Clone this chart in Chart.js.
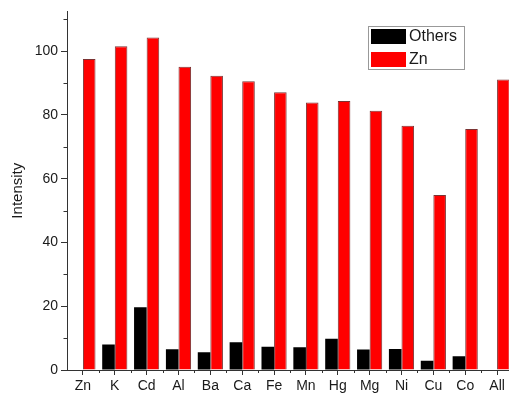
<!DOCTYPE html>
<html>
<head>
<meta charset="utf-8">
<script src="https://cdn.jsdelivr.net/npm/chart.js@4/dist/chart.umd.min.js"></script>
<style>
  html, body { margin: 0; padding: 0; background: #fff; overflow: hidden; width: 509px; height: 393px; }
  #wrap { width: 513px; height: 393px; position: relative; }
</style>
</head>
<body>
<div id="wrap"><canvas id="c"></canvas></div>
<script>
// Ions tested and measured intensities
const categories = ['Zn', 'K', 'Cd', 'Al', 'Ba', 'Ca', 'Fe', 'Mn', 'Hg', 'Mg', 'Ni', 'Cu', 'Co', 'All'];
const othersValues = [0, 8.0, 19.7, 6.5, 5.6, 8.7, 7.3, 7.1, 9.8, 6.4, 6.6, 2.9, 4.3, 0];
const znValues = [97.6, 101.6, 104.3, 95.1, 92.3, 90.6, 87.1, 83.9, 84.4, 81.3, 76.6, 54.9, 75.6, 91.1];
const yTicks = [0, 20, 40, 60, 80, 100];
const yMinorTicks = [10, 30, 50, 70, 90, 110];
const seriesLabels = ['Others', 'Zn'];

const FONT = '"Liberation Sans", Arial, sans-serif';
const AXIS = '#333';
const TEXT = '#1a1a1a';

// Minor ticks on both axes and the boxed legend inside the plot
const extras = {
  id: 'extras',
  afterDraw(chart) {
    const ctx = chart.ctx;
    const x = chart.scales.x, y = chart.scales.y;
    ctx.save();
    ctx.strokeStyle = AXIS;
    ctx.lineWidth = 1;
    ctx.beginPath();
    yMinorTicks.forEach(v => {
      const py = Math.round(y.getPixelForValue(v)) + 0.5;
      ctx.moveTo(x.left - 3.5, py);
      ctx.lineTo(x.left, py);
    });
    for (let i = 1; i < categories.length; i++) {
      const px = Math.round((x.getPixelForValue(i - 1) + x.getPixelForValue(i)) / 2) + 0.5;
      ctx.moveTo(px, y.bottom);
      ctx.lineTo(px, y.bottom + 3);
    }
    ctx.stroke();

    // legend
    const bx = 368, by = 26, bw = 96, bh = 43;
    ctx.strokeStyle = '#999';
    ctx.strokeRect(bx + 0.5, by + 0.5, bw, bh);
    chart.data.datasets.forEach((ds, i) => {
      const sy = by + 3 + i * 23;
      ctx.fillStyle = ds.backgroundColor;
      ctx.fillRect(bx + 3, sy, 35, 15);
      ctx.fillStyle = TEXT;
      ctx.font = '16px ' + FONT;
      ctx.textBaseline = 'middle';
      ctx.textAlign = 'left';
      ctx.fillText(ds.label, bx + 41, sy + 8);
    });
    ctx.restore();
  }
};

new Chart(document.getElementById('c'), {
  type: 'bar',
  data: {
    labels: categories,
    datasets: [
      { label: seriesLabels[0], data: othersValues, backgroundColor: '#000000', borderColor: '#000000', borderWidth: 0 },
      { label: seriesLabels[1], data: znValues, backgroundColor: '#ff0000', borderColor: 'rgba(90,0,0,0.8)', borderWidth: 1 }
    ]
  },
  options: {
    responsive: true,
    maintainAspectRatio: false,
    animation: false,
    devicePixelRatio: 1,
    layout: { padding: { top: 11, right: 0, bottom: 0, left: 0 } },
    datasets: { bar: { categoryPercentage: 0.79, barPercentage: 1.0, borderSkipped: 'bottom' } },
    plugins: { legend: { display: false }, tooltip: { enabled: false } },
    scales: {
      x: {
        offset: true,
        grid: { display: true, drawOnChartArea: false, drawTicks: true, tickLength: 5, color: AXIS, offset: false },
        border: { display: true, color: AXIS, width: 1 },
        ticks: { color: TEXT, font: { family: FONT, size: 14 }, padding: 3, maxRotation: 0, autoSkip: false },
        afterFit(scale) { scale.height = 23; }
      },
      y: {
        min: 0,
        max: 112.5,
        afterBuildTicks(scale) { scale.ticks = yTicks.map(v => ({ value: v })); },
        grid: { display: true, drawOnChartArea: false, drawTicks: true, tickLength: 6, color: AXIS },
        border: { display: true, color: AXIS, width: 1 },
        ticks: { color: TEXT, font: { family: FONT, size: 14 }, padding: 3 },
        title: { display: true, text: 'Intensity', color: TEXT, font: { family: FONT, size: 15 }, padding: { top: 9, bottom: 0 } },
        afterFit(scale) { scale.width = 67; }
      }
    }
  },
  plugins: [extras]
});
</script>
</body>
</html>
